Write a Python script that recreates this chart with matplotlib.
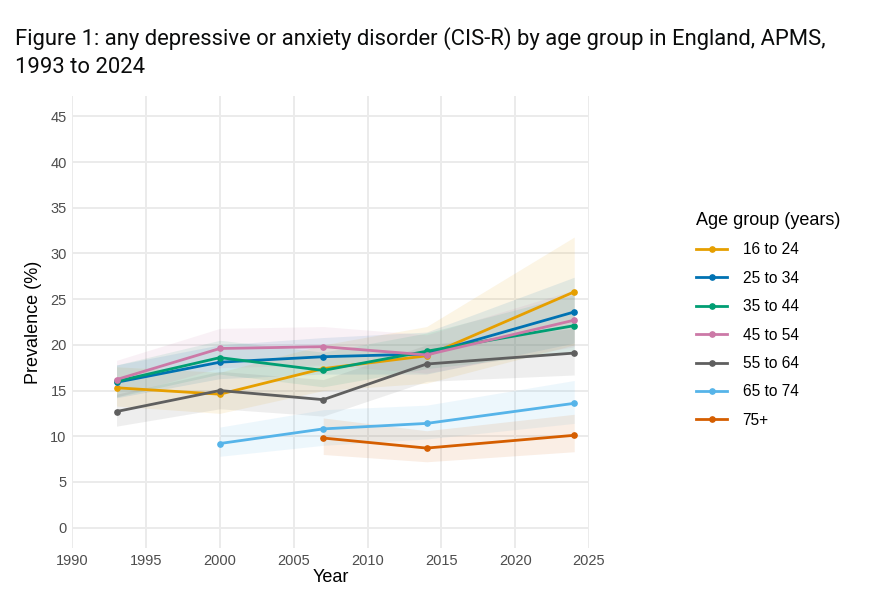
import matplotlib
matplotlib.use("Agg")
import matplotlib.pyplot as plt
import numpy as np

years = [1993, 2000, 2007, 2014, 2024]
groups = ["16 to 24", "25 to 34", "35 to 44", "45 to 54", "55 to 64", "65 to 74", "75+"]
colors = ["#E69F00", "#0072B2", "#009E73", "#CC79A7", "#5F5F5F", "#56B4E9", "#D55E00"]

# prevalence (%), None = not surveyed
v_16_24 = [15.3, 14.6, 17.4, 18.8, 25.8]
v_25_34 = [15.9, 18.1, 18.7, 19.0, 23.6]
v_35_44 = [16.0, 18.6, 17.2, 19.3, 22.1]
v_45_54 = [16.2, 19.6, 19.8, 18.9, 22.7]
v_55_64 = [12.7, 15.0, 14.0, 17.9, 19.1]
v_65_74 = [None, 9.2, 10.8, 11.4, 13.6]
v_75p = [None, None, 9.8, 8.7, 10.1]

lo_16_24 = [13.3, 12.5, 15.0, 15.8, 20.0]
hi_16_24 = [17.6, 17.0, 20.0, 22.0, 31.8]
lo_25_34 = [14.2, 16.3, 16.8, 16.8, 20.2]
hi_25_34 = [17.8, 20.0, 20.8, 21.4, 27.4]
lo_35_44 = [14.3, 16.8, 15.4, 17.4, 19.2]
hi_35_44 = [17.8, 20.5, 19.2, 21.3, 25.5]
lo_45_54 = [14.3, 17.5, 17.8, 16.9, 19.8]
hi_45_54 = [18.3, 21.8, 22.0, 21.1, 26.0]
lo_55_64 = [11.1, 13.0, 12.2, 16.0, 16.7]
hi_55_64 = [14.6, 17.1, 16.2, 20.0, 21.8]
lo_65_74 = [None, 7.8, 9.0, 9.7, 11.4]
hi_65_74 = [None, 11.0, 12.9, 13.4, 16.1]
lo_75p = [None, None, 8.0, 7.2, 8.3]
hi_75p = [None, None, 12.0, 10.6, 12.4]

values = [v_16_24, v_25_34, v_35_44, v_45_54, v_55_64, v_65_74, v_75p]
lows = [lo_16_24, lo_25_34, lo_35_44, lo_45_54, lo_55_64, lo_65_74, lo_75p]
highs = [hi_16_24, hi_25_34, hi_35_44, hi_45_54, hi_55_64, hi_65_74, hi_75p]

xticks = [1990, 1995, 2000, 2005, 2010, 2015, 2020, 2025]
yticks = [0, 5, 10, 15, 20, 25, 30, 35, 40, 45]

plt.rcParams['font.family'] = ['Liberation Sans', 'DejaVu Sans']

fig = plt.figure(figsize=(8.7, 6.03), dpi=100)
ax = fig.add_axes([0.083, 0.091, 0.594, 0.750])

for name, col, v, lo, hi in zip(groups, colors, values, lows, highs):
    idx = [i for i, x in enumerate(v) if x is not None]
    xs = [years[i] for i in idx]
    ax.fill_between(xs, [lo[i] for i in idx], [hi[i] for i in idx],
                    color=col, alpha=0.10, linewidth=0, zorder=1)
for name, col, v in zip(groups, colors, values):
    idx = [i for i, x in enumerate(v) if x is not None]
    xs = [years[i] for i in idx]
    ax.plot(xs, [v[i] for i in idx], color=col, lw=2, marker='o', ms=3.8,
            label=name, zorder=3)

ax.set_xlim(1990, 2025)
ax.set_ylim(-2.25, 47.25)
ax.set_xticks(xticks)
ax.set_yticks(yticks)
ax.grid(True, color="#EBEBEB", lw=1.4, zorder=0)
ax.set_axisbelow(True)
for s in ax.spines.values():
    s.set_visible(False)
ax.tick_params(length=0, labelsize=10.5, labelcolor="#4D4D4D", pad=4)
ax.set_xlabel("Year", fontsize=13, labelpad=1)
ax.set_ylabel("Prevalence (%)", fontsize=13, labelpad=6)

leg = ax.legend(loc="upper left", bbox_to_anchor=(1.18, 0.774), frameon=False,
                title="Age group (years)", fontsize=11.2, title_fontsize=13,
                handlelength=2.0, labelspacing=0.86, alignment='left',
                handletextpad=1.0)

fig.text(0.017, 0.955, "Figure 1: any depressive or anxiety disorder (CIS-R) by age group in England, APMS,\n1993 to 2024",
         fontsize=15.8, va='top', ha='left', linespacing=1.4, color="#0B0C0C",
         family=['Roboto', 'DejaVu Sans'])

fig.savefig("out.png", dpi=100, facecolor="white")
